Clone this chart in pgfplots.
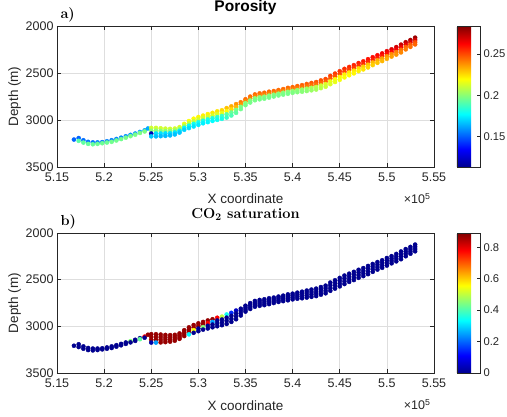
\documentclass[border=0pt]{standalone}
\usepackage{fontspec}
\setmainfont{Liberation Sans}
\newfontfamily\lmr{Latin Modern Roman}
\usepackage{pgfplots}
\usepackage{pgfplotstable}
\pgfplotsset{compat=1.18}

\definecolor{axgray}{rgb}{0.15,0.15,0.15}
\definecolor{gridgray}{rgb}{0.87,0.87,0.87}
\newcommand\tickfont{\fontsize{12.5}{14}\selectfont}
\newcommand\cbfont{\fontsize{11.2}{13}\selectfont}
\newcommand\labfont{\fontsize{13.5}{16}\selectfont}

% grid cells: x (x 1e5 m), depth (m), porosity, CO2 saturation
\pgfplotstableread{
x y p s
5.168 3208 0.151 0
5.173 3192 0.151 0
5.173 3222 0.192 0
5.178 3215 0.153 0
5.178 3240 0.193 0
5.183 3232 0.154 0
5.183 3254 0.194 0
5.188 3238 0.154 0
5.188 3258 0.194 0
5.193 3238 0.155 0
5.193 3254 0.195 0
5.198 3235 0.155 0
5.198 3247 0.195 0
5.203 3226 0.156 0
5.203 3240 0.195 0
5.208 3215 0.156 0
5.208 3232 0.196 0
5.213 3202 0.157 0
5.213 3218 0.196 0
5.218 3188 0.157 0
5.218 3203 0.196 0
5.223 3173 0.158 0
5.223 3188 0.197 0
5.228 3158 0.159 0.45
5.228 3172 0.197 0
5.233 3144 0.160 0
5.233 3156 0.197 0
5.238 3127 0.161 0
5.238 3138 0.198 0.42
5.243 3110 0.162 0.78
5.243 3122 0.198 0
5.2465 3090 0.163 0.87
5.250 3084 0.212 0.87
5.250 3114 0.200 0.87
5.250 3144 0.120 0.87
5.250 3174 0.168 0.02
5.255 3084 0.212 0.87
5.255 3114 0.200 0.87
5.255 3144 0.172 0.87
5.255 3174 0.166 0.25
5.260 3088 0.212 0.87
5.260 3116 0.200 0.87
5.260 3144 0.172 0.87
5.260 3172 0.166 0.87
5.265 3092 0.212 0.87
5.265 3118 0.200 0.87
5.265 3143 0.172 0.87
5.265 3169 0.166 0.87
5.270 3094 0.212 0.87
5.270 3117 0.200 0.87
5.270 3141 0.172 0.87
5.270 3164 0.166 0.87
5.275 3091 0.213 0.87
5.275 3112 0.201 0.87
5.275 3133 0.173 0.87
5.275 3154 0.167 0.87
5.280 3076 0.214 0.87
5.280 3095 0.202 0.87
5.280 3115 0.174 0.87
5.280 3134 0.168 0.87
5.285 3041 0.217 0.87
5.285 3062 0.206 0.87
5.285 3083 0.176 0.87
5.285 3104 0.170 0.87
5.290 3011 0.219 0.87
5.290 3036 0.208 0.87
5.290 3061 0.178 0.87
5.290 3086 0.172 0.33
5.295 2986 0.220 0.87
5.295 3014 0.210 0.87
5.295 3041 0.179 0.55
5.295 3069 0.173 0
5.300 2968 0.221 0.87
5.300 2996 0.211 0.87
5.300 3024 0.180 0
5.300 3052 0.174 0
5.305 2953 0.222 0.87
5.305 2980 0.212 0.87
5.305 3008 0.181 0.45
5.305 3035 0.175 0
5.310 2937 0.222 0.87
5.310 2966 0.212 0.78
5.310 2994 0.182 0
5.310 3023 0.176 0
5.315 2924 0.223 0.87
5.315 2953 0.213 0.25
5.315 2981 0.183 0
5.315 3010 0.177 0
5.320 2908 0.224 0.78
5.320 2938 0.214 0
5.320 2969 0.185 0
5.320 2999 0.179 0
5.325 2896 0.226 0.50
5.325 2927 0.216 0
5.325 2957 0.187 0
5.325 2988 0.181 0
5.330 2873 0.230 0.35
5.330 2907 0.220 0
5.330 2940 0.192 0
5.330 2974 0.186 0
5.335 2855 0.234 0.15
5.335 2887 0.226 0
5.335 2920 0.195 0
5.335 2952 0.190 0
5.340 2831 0.238 0.05
5.340 2862 0.232 0
5.340 2893 0.197 0
5.340 2924 0.193 0
5.345 2811 0.242 0
5.345 2835 0.238 0
5.345 2860 0.199 0
5.345 2884 0.196 0
5.350 2779 0.244 0
5.350 2800 0.240 0
5.350 2821 0.200 0
5.350 2842 0.197 0
5.355 2751 0.245 0
5.355 2772 0.241 0
5.355 2793 0.200 0
5.355 2814 0.197 0
5.360 2728 0.245 0
5.360 2749 0.241 0
5.360 2769 0.200 0
5.360 2790 0.197 0
5.365 2717 0.245 0
5.365 2738 0.241 0
5.365 2759 0.200 0
5.365 2780 0.197 0
5.370 2710 0.245 0
5.370 2731 0.241 0
5.370 2752 0.200 0
5.370 2773 0.197 0
5.375 2699 0.245 0
5.375 2720 0.241 0
5.375 2741 0.200 0
5.375 2762 0.197 0
5.380 2692 0.245 0
5.380 2711 0.241 0
5.380 2731 0.200 0
5.380 2750 0.197 0
5.385 2681 0.245 0
5.385 2700 0.241 0
5.385 2720 0.200 0
5.385 2739 0.197 0
5.390 2671 0.245 0
5.390 2691 0.241 0
5.390 2710 0.200 0
5.390 2730 0.197 0
5.395 2658 0.245 0
5.395 2679 0.241 0
5.395 2700 0.200 0
5.395 2721 0.197 0
5.400 2650 0.246 0
5.400 2670 0.242 0
5.400 2691 0.201 0
5.400 2711 0.198 0
5.405 2639 0.246 0
5.405 2661 0.242 0
5.405 2682 0.202 0
5.405 2704 0.199 0
5.410 2629 0.247 0
5.410 2652 0.243 0
5.410 2676 0.203 0
5.410 2699 0.200 0
5.415 2617 0.247 0
5.415 2642 0.243 0
5.415 2667 0.204 0
5.415 2692 0.201 0
5.420 2606 0.248 0
5.420 2632 0.244 0
5.420 2658 0.206 0
5.420 2684 0.203 0
5.425 2596 0.248 0
5.425 2623 0.244 0
5.425 2649 0.208 0
5.425 2676 0.205 0
5.430 2579 0.249 0
5.430 2606 0.245 0
5.430 2634 0.211 0
5.430 2661 0.208 0
5.435 2564 0.250 0
5.435 2591 0.246 0
5.435 2619 0.214 0
5.435 2646 0.211 0
5.440 2531 0.252 0
5.440 2560 0.248 0
5.440 2590 0.217 0
5.440 2619 0.214 0
5.445 2506 0.253 0
5.445 2536 0.249 0
5.445 2566 0.219 0
5.445 2596 0.216 0
5.450 2481 0.254 0
5.450 2511 0.250 0
5.450 2542 0.221 0
5.450 2572 0.218 0
5.455 2456 0.255 0
5.455 2486 0.251 0
5.455 2517 0.222 0
5.455 2547 0.219 0
5.460 2436 0.256 0
5.460 2465 0.252 0
5.460 2495 0.223 0
5.460 2524 0.220 0
5.465 2416 0.257 0
5.465 2445 0.253 0
5.465 2475 0.224 0
5.465 2504 0.221 0
5.470 2394 0.258 0
5.470 2423 0.254 0
5.470 2451 0.226 0
5.470 2480 0.222 0
5.475 2376 0.259 0
5.475 2405 0.255 0
5.475 2433 0.228 0
5.475 2462 0.224 0
5.480 2353 0.260 0
5.480 2382 0.256 0
5.480 2412 0.230 0
5.480 2441 0.226 0
5.485 2332 0.261 0
5.485 2360 0.257 0
5.485 2388 0.232 0
5.485 2416 0.228 0
5.490 2311 0.262 0
5.490 2338 0.258 0
5.490 2365 0.234 0
5.490 2392 0.230 0
5.495 2292 0.264 0
5.495 2319 0.259 0
5.495 2346 0.236 0
5.495 2373 0.232 0
5.500 2268 0.266 0
5.500 2295 0.261 0
5.500 2322 0.238 0
5.500 2349 0.234 0
5.505 2248 0.268 0
5.505 2274 0.262 0
5.505 2299 0.240 0
5.505 2325 0.236 0
5.510 2224 0.270 0
5.510 2251 0.264 0
5.510 2277 0.242 0
5.510 2304 0.238 0
5.515 2198 0.272 0
5.515 2226 0.265 0
5.515 2253 0.244 0
5.515 2281 0.240 0
5.520 2172 0.274 0
5.520 2198 0.266 0
5.520 2223 0.246 0
5.520 2249 0.242 0
5.525 2149 0.277 0
5.525 2173 0.268 0
5.525 2198 0.248 0
5.525 2222 0.244 0
5.530 2124 0.280 0
5.530 2148 0.270 0
5.530 2172 0.250 0
5.530 2196 0.246 0
}\cells

\pgfplotsset{
  /pgf/number format/assume math mode=true,
  /pgf/number format/1000 sep={},
  colormap={mjet}{rgb(0pt)=(0,0,0.5625); rgb(1pt)=(0,0,1); rgb(3pt)=(0,1,1); rgb(5pt)=(1,1,0); rgb(7pt)=(1,0,0); rgb(8pt)=(0.5,0,0)},
  panel/.style={
    scale only axis, width=377pt,
    xmin=5.15, xmax=5.55, ymin=2000, ymax=3500, y dir=reverse,
    xtick={5.15,5.2,5.25,5.3,5.35,5.4,5.45,5.5,5.55},
    ytick={2000,2500,3000,3500},
    scaled ticks=false,
    grid=major, major grid style={gridgray, line width=0.5pt},
    axis line style={axgray, line width=0.6pt},
    tick style={axgray, line width=0.6pt}, major tick length=3.8pt,
    tick label style={font=\tickfont, text=axgray},
    xticklabel style={yshift=-2pt},
    label style={font=\labfont, text=axgray},
    xlabel={X coordinate}, ylabel={Depth (m)},
    xlabel style={at={(axis description cs:0.5,0)}, anchor=base, yshift=-37pt},
    ylabel style={at={(axis description cs:-0.1127,0.5)}, anchor=center},
    title style={font=\fontsize{15.5}{18}\selectfont\bfseries, at={(axis description cs:0.5,1)}, anchor=base, yshift=8.8pt},
    colormap name=mjet,
    colorbar,
    colorbar shift/.style={xshift=23pt},
    colorbar style={
      at={(parent axis.north east)}, anchor=north west,
      scale only axis, width=23pt,
      axis line style={axgray, line width=0.6pt},
      ytick pos=right, yticklabel pos=right,
      tick align=inside, major tick length=3pt,
      tick style={axgray, line width=0.6pt},
      yticklabel style={font=\cbfont, text=axgray},
    },
  },
  cells/.style={scatter, only marks, mark=*, mark size=2.05pt,
    scatter/use mapped color={draw=mapped color, fill=mapped color}},
}

\begin{document}
\begin{tikzpicture}
\path[use as bounding box] (0,0) rectangle (507pt,-417pt);

\begin{axis}[panel, name=top, at={(57pt,-26pt)}, anchor=north west, height=141pt,
  title={Porosity},
  point meta min=0.113, point meta max=0.284,
  colorbar style={ytick={0.15,0.2,0.25}}]
\addplot[cells, point meta=explicit] table[x=x, y=y, meta=p] {\cells};
\end{axis}

\begin{axis}[panel, name=bot, at={(57pt,-233pt)}, anchor=north west, height=140pt,
  title={\lmr\fontsize{14.5}{17}\selectfont\bfseries CO\textsubscript{2} saturation},
  point meta min=0, point meta max=0.89,
  colorbar style={ytick={0,0.2,0.4,0.6,0.8}}]
\addplot[cells, point meta=explicit] table[x=x, y=y, meta=s] {\cells};
\end{axis}

\node[anchor=base west, font=\lmr\fontsize{14.5}{17}\selectfont\bfseries, yshift=7.7pt] at (top.north west) {a)};
\node[anchor=base west, font=\lmr\fontsize{14.5}{17}\selectfont\bfseries, yshift=7.7pt] at (bot.north west) {b)};
\node[anchor=base east, font=\tickfont, text=axgray, yshift=-37pt] at (top.south east) {×10\textsuperscript{5}};
\node[anchor=base east, font=\tickfont, text=axgray, yshift=-37pt] at (bot.south east) {×10\textsuperscript{5}};
\end{tikzpicture}
\end{document}
